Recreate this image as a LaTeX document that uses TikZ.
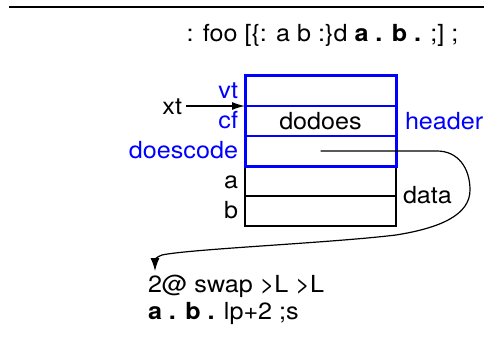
\documentclass[tikz,border=0pt]{standalone}
\usepackage{fontspec}
\setmainfont{TeX Gyre Heros}[FakeStretch=1.07]
\usetikzlibrary{arrows.meta}
\begin{document}
\begin{tikzpicture}[x=1pt,y=-1pt,
  txt/.style={inner sep=0pt, outer sep=0pt, font=\fontsize{23.5}{28}\selectfont},
  lbl/.style={txt, text=blue},
  rowbox/.style={minimum width=151pt, minimum height=30pt, inner sep=0pt, outer sep=0pt},
  hrow/.style={rowbox, draw=blue, line width=1.5pt},
  drow/.style={rowbox, draw=black, line width=1.3pt},
  conn/.style={line width=1.2pt, -{Latex[length=13pt,width=9pt]}}
]
\useasboundingbox (0,0) rectangle (484,342);
% top rule
\coordinate (rl) at (9,7);
\coordinate (rr) at (484,7);
\draw[line width=1.3pt] (rl) -- (rr);
% title
\node[txt, anchor=base] (title) at (322.5,42) {: foo [\{: a b :\}d \textbf{a . b .} ;] ;};
% rows
\node[drow] (ra) at (320.5,181) {};
\node[drow] (rb) at (320.5,211) {};
\node[hrow] (vt) at (320.5,91) {};
\node[hrow] (cf) at (320.5,121) {};
\node[hrow] (dc) at (320.5,151) {};
\draw[blue, line width=3pt] (vt.north west) rectangle (dc.south east);
% texts inside
\node[txt, anchor=base] (dodoes) at (320.5,129) {dodoes};
% left labels
\node[lbl, anchor=base east] (lvt) at (238,98.5) {vt};
\node[lbl, anchor=base east] (lcf) at (238,128.5) {cf};
\node[lbl, anchor=base east] (ldc) at (238,158.5) {doescode};
\node[txt, anchor=base east] (la) at (238,188.5) {a};
\node[txt, anchor=base east] (lb) at (238,218.5) {b};
% right labels
\node[lbl, anchor=base west] (header) at (405,129) {header};
\node[txt, anchor=base west] (data) at (403,203) {data};
% xt arrow
\node[txt, anchor=base east] (xt) at (182,114) {xt};
\draw[line width=1.2pt, -{Latex[length=13pt,width=8pt]}] ([xshift=4pt]xt.east |- vt.south) -- (vt.south west);
% code
\node[txt, anchor=base west] (l1) at (148,292) {2@ swap >L >L};
\node[txt, anchor=base west] (l2) at (148,319) {\textbf{a . b .} lp+2 ;s};
% curve
\coordinate (ctip) at (155,271);
\draw[conn] (dc.center) -- (437,151) .. controls (458,151) and (470,168) .. (470,190)
  .. controls (470,215) and (440,228) .. (396,235)
  .. controls (330,243) and (190,249) .. (162,255)
  .. controls (156,257) and (155,260) .. (ctip);
\end{tikzpicture}
\end{document}
